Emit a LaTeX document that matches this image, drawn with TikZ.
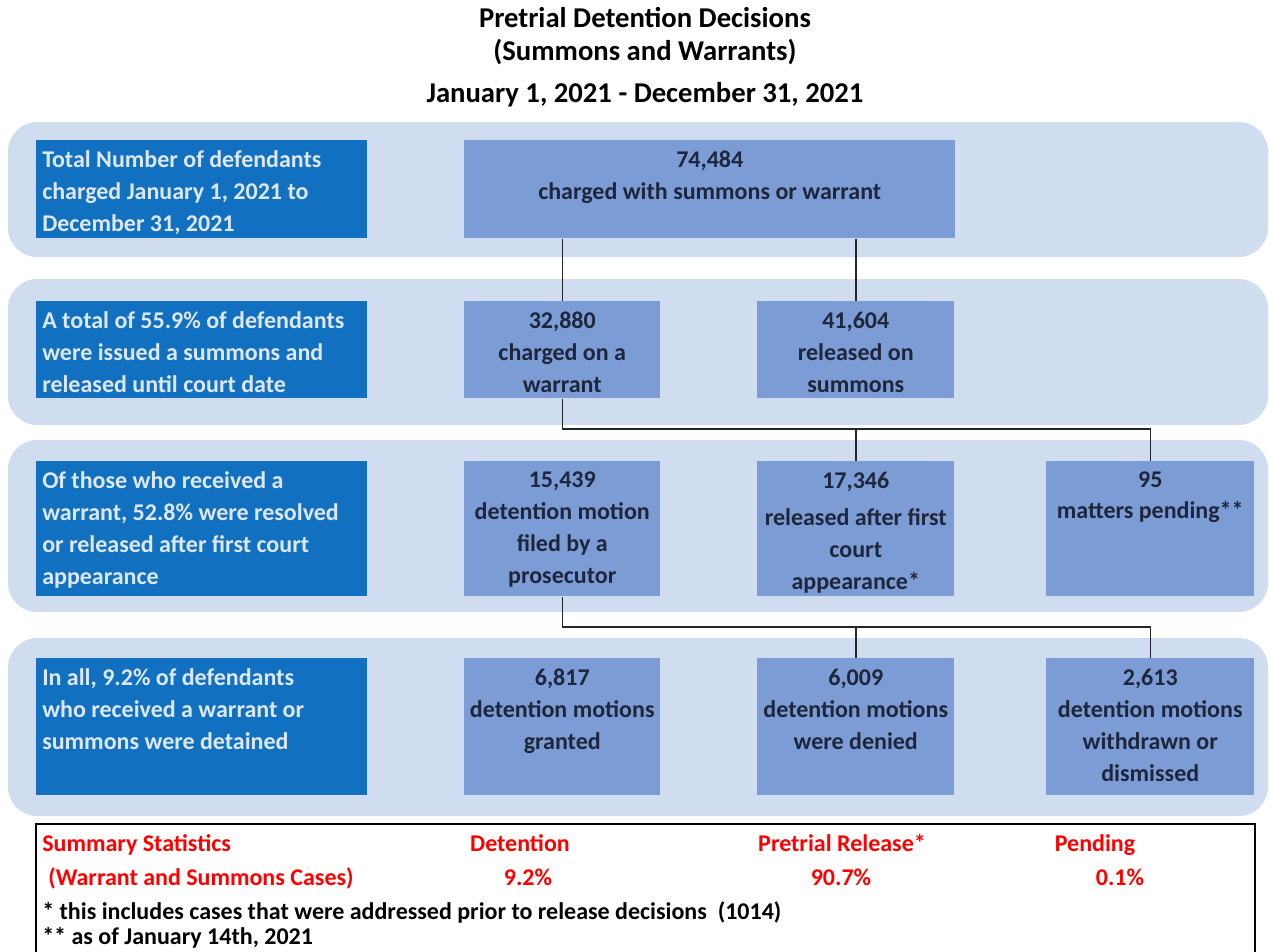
\documentclass[tikz,border=0pt]{standalone}
\usepackage{fontspec}
\setmainfont{Carlito}

\definecolor{bandblue}{RGB}{208,220,239}
\definecolor{darkbox}{RGB}{17,112,192}
\definecolor{midbox}{RGB}{124,156,213}
\definecolor{lighttext}{RGB}{222,232,244}
\definecolor{navytext}{RGB}{30,38,60}
\definecolor{sumred}{RGB}{255,0,0}

\tikzset{
  band/.style={fill=bandblue, rounded corners=22pt},
  leftbox/.style={fill=darkbox, anchor=north west, inner sep=0pt,
                  minimum width=248.25pt},
  boxmid/.style={fill=midbox, anchor=north west, inner sep=0pt},
  lefttext/.style={anchor=north west, inner sep=0pt, align=left,
                   text=lighttext, font=\fontsize{18}{24}\selectfont\bfseries},
  midtext/.style={anchor=north, inner sep=0pt, align=center,
                  text=navytext, font=\fontsize{18}{24}\selectfont\bfseries},
  link/.style={draw=black!85, line width=1.1pt},
  sumtext/.style={inner sep=0pt, font=\fontsize{18}{20}\selectfont\bfseries},
  titletext/.style={inner sep=0pt, font=\fontsize{21.5}{25}\selectfont\bfseries},
}

\begin{document}
\begin{tikzpicture}[x=0.75pt, y=-0.75pt]
\useasboundingbox (0,0) rectangle (1270,951);
\clip (0,0) rectangle (1270,951);

% title
\node[titletext] (title1) at (645,18) {Pretrial Detention Decisions};
\node[titletext] (title2) at (645,52) {(Summons and Warrants)};
\node[titletext] (title3) at (645,95) {January 1, 2021 - December 31, 2021};

% background bands
\fill[band] (8,122) rectangle (1268,257);
\fill[band] (8,279) rectangle (1268,425);
\fill[band] (8,440) rectangle (1268,612);
\fill[band] (8,638) rectangle (1268,816);

% left column
\node[leftbox, minimum height=73.5pt] (l1) at (36,140) {};
\node[leftbox, minimum height=72.75pt] (l2) at (36,301) {};
\node[leftbox, minimum height=101.25pt] (l3) at (36,461) {};
\node[leftbox, minimum height=102.75pt] (l4) at (36,658) {};

\node[lefttext] (l1t) at ([xshift=4.5pt,yshift=-8pt]l1.north west) {Total Number of defendants\\charged January 1, 2021 to\\December 31, 2021};
\node[lefttext] (l2t) at ([xshift=4.5pt,yshift=-8pt]l2.north west) {A total of 55.9\% of defendants\\were issued a summons and\\released until court date};
\node[lefttext] (l3t) at ([xshift=4.5pt,yshift=-8pt]l3.north west) {Of those who received a\\warrant, 52.8\% were resolved\\or released after first court\\appearance};
\node[lefttext] (l4t) at ([xshift=4.5pt,yshift=-8pt]l4.north west) {In all, 9.2\% of defendants\\who received a warrant or\\summons were detained};

% flow boxes
\node[boxmid, minimum width=368.25pt, minimum height=73.5pt] (total) at (464,140) {};
\node[boxmid, minimum width=147pt, minimum height=72.75pt] (warrant) at (464,301) {};
\node[boxmid, minimum width=147.75pt, minimum height=72.75pt] (summons) at (757,301) {};
\node[boxmid, minimum width=147pt, minimum height=101.25pt] (motion) at (464,461) {};
\node[boxmid, minimum width=147.75pt, minimum height=101.25pt] (released) at (757,461) {};
\node[boxmid, minimum width=156pt, minimum height=101.25pt] (pending) at (1046,461) {};
\node[boxmid, minimum width=147pt, minimum height=102.75pt] (granted) at (464,658) {};
\node[boxmid, minimum width=147.75pt, minimum height=102.75pt] (denied) at (757,658) {};
\node[boxmid, minimum width=156pt, minimum height=102.75pt] (withdrawn) at (1046,658) {};

\node[midtext] (totalt) at ([yshift=-8pt]total.north) {74,484\\charged with summons or warrant};
\node[midtext] (warrantt) at ([yshift=-8pt]warrant.north) {32,880\\charged on a\\warrant};
\node[midtext] (summonst) at ([yshift=-8pt]summons.north) {41,604\\released on\\summons};
\node[midtext] (motiont) at ([yshift=-8pt]motion.north) {15,439\\detention motion\\filed by a\\prosecutor};
\node[midtext] (releasedt) at ([yshift=-8pt]released.north) {17,346\\[4pt]released after first\\court\\appearance*};
\node[midtext] (pendingt) at ([yshift=-8pt]pending.north) {95\\[-1pt]matters pending**};
\node[midtext] (grantedt) at ([yshift=-8pt]granted.north) {6,817\\detention motions\\granted};
\node[midtext] (deniedt) at ([yshift=-8pt]denied.north) {6,009\\detention motions\\were denied};
\node[midtext] (withdrawnt) at ([yshift=-8pt]withdrawn.north) {2,613\\detention motions\\withdrawn or\\dismissed};

% connectors
\coordinate (bus1) at (0,429);
\coordinate (bus2) at (0,627);
\draw[link] (warrant.north |- total.south) -- (warrant.north);
\draw[link] (summons.north |- total.south) -- (summons.north);
\draw[link] (warrant.south) |- (pending.north |- bus1) -- (pending.north);
\draw[link] (released.north |- bus1) -- (released.north);
\draw[link] (motion.south) |- (withdrawn.north |- bus2) -- (withdrawn.north);
\draw[link] (denied.north |- bus2) -- (denied.north);

% summary table
\draw[line width=2.2pt] (36,824) rectangle (1255,975);
\node[sumtext, text=sumred, anchor=base west] (s1) at (42,851) {Summary Statistics};
\node[sumtext, text=sumred, anchor=base west] (s2) at (48,885) {(Warrant and Summons Cases)};
\node[sumtext, text=sumred, anchor=base] (det) at (520,851) {Detention};
\node[sumtext, text=sumred, anchor=base] (detv) at (528,885) {9.2\%};
\node[sumtext, text=sumred, anchor=base] (rel) at (842,851) {Pretrial Release*};
\node[sumtext, text=sumred, anchor=base] (relv) at (841,885) {90.7\%};
\node[sumtext, text=sumred, anchor=base] (pend) at (1095,851) {Pending};
\node[sumtext, text=sumred, anchor=base] (pendv) at (1120,885) {0.1\%};
\node[sumtext, anchor=base west] (n1) at (42,919) {* this includes cases that were addressed prior to release decisions~~(1014)};
\node[sumtext, anchor=base west] (n2) at (42,944) {** as of January 14th, 2021};
\end{tikzpicture}
\end{document}
